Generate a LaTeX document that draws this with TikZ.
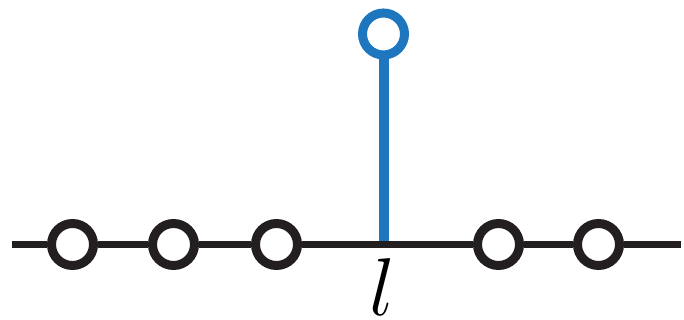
\RequirePackage{fix-cm}
\documentclass[tikz,border=0pt]{standalone}
\usepackage{xcolor}
\usepackage{amsmath}
\usepackage{tikz}

\definecolor{siteblue}{RGB}{30,118,190}
\definecolor{siteblack}{RGB}{35,31,32}

\begin{document}
\begin{tikzpicture}[x=0.5pt,y=-0.5pt,
    site/.style={circle,draw=siteblack,line width=4.5pt,fill=white,minimum size=21pt,inner sep=0pt},
    bond/.style={siteblack,line width=3.5pt}]
            \useasboundingbox (0,0) rectangle (684,320);

            \coordinate (left) at (12,244.5);
            \coordinate (right) at (681,244.5);
            \coordinate (base) at (383.5,244.5);

            % side site above the chain
            \node[site,draw=siteblue] (top) at (383.5,34) {};
            \draw[siteblue,line width=5pt] (top) -- (base);

            % chain
            \node[site] (s1) at (72.5,244.5) {};
            \node[site] (s2) at (173.5,244.5) {};
            \node[site] (s3) at (276.5,244.5) {};
            \node[site] (s4) at (498.5,244.5) {};
            \node[site] (s5) at (598.5,244.5) {};
            \draw[bond] (left) -- (s1) (s1) -- (s2) (s2) -- (s3) (s3) -- (s4) (s4) -- (s5) (s5) -- (right);

            \node[font=\fontsize{41}{41}\selectfont,anchor=base,inner sep=0pt] (lbl) at (382,315) {$l$};
\end{tikzpicture}
\end{document}
